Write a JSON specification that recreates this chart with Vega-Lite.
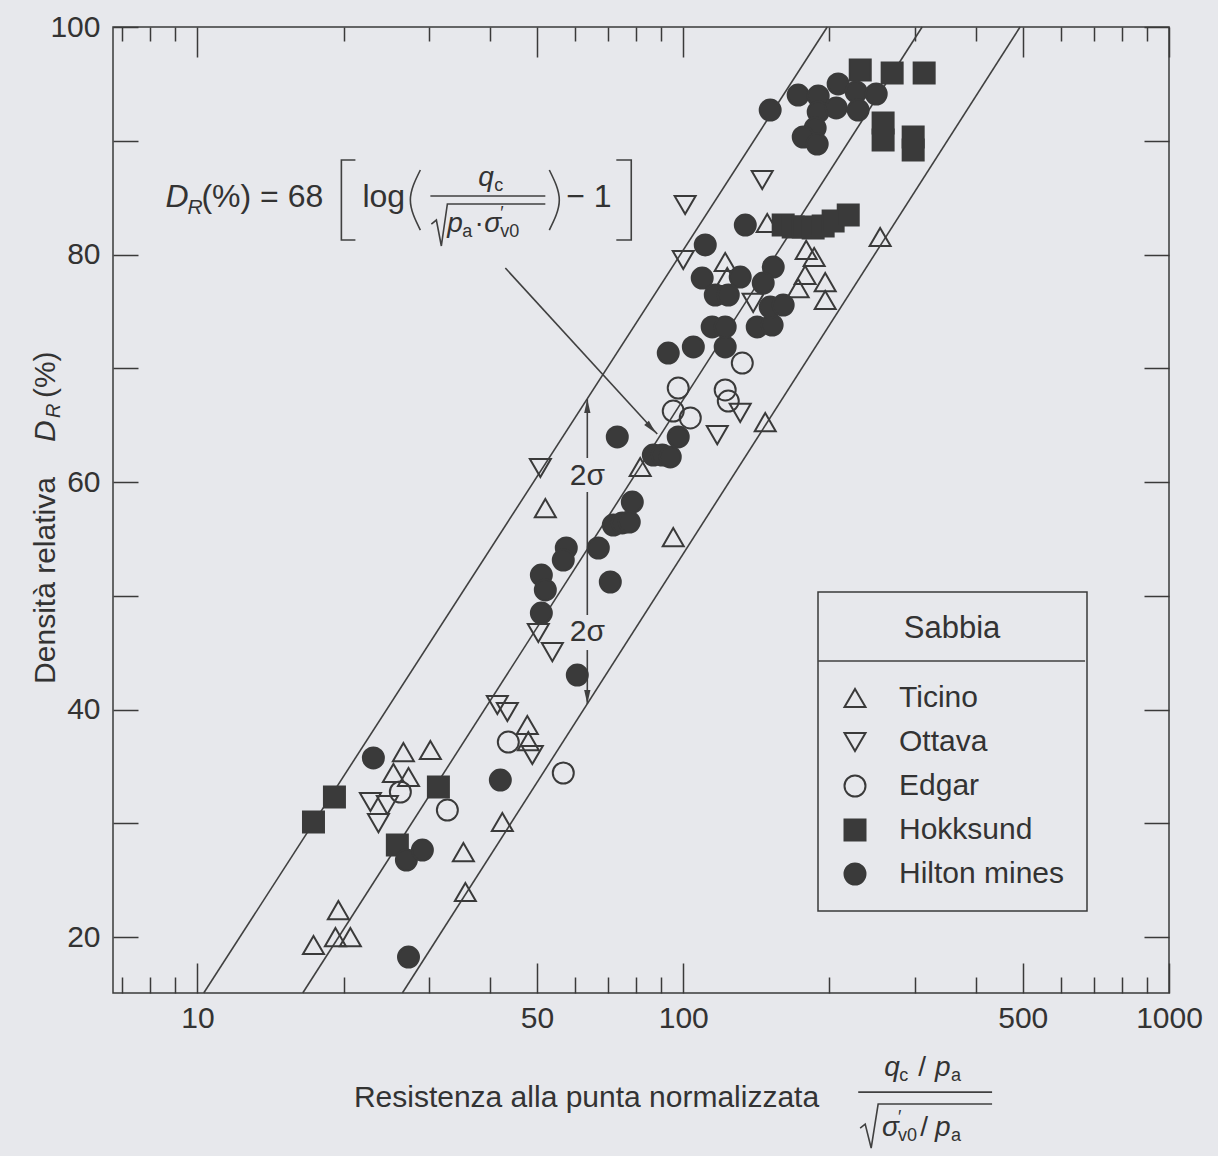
{
  "$schema": "https://vega.github.io/schema/vega-lite/v6.json",
  "width": 1056,
  "height": 966,
  "autosize": {"type": "none"},
  "padding": {"left": 113, "top": 27, "right": 49, "bottom": 163},
  "background": "#e7e8ec",
  "config": {
    "font": "Liberation Sans",
    "view": {"stroke": "#3a3a3a", "strokeWidth": 1.5},
    "axis": {"grid": false, "domainColor": "#3a3a3a", "domainWidth": 1.5, "tickColor": "#3a3a3a", "tickWidth": 1.5, "labelColor": "#333333", "labelFontSize": 30, "labelFont": "Liberation Sans", "titleFont": "Liberation Sans", "titleFontSize": 30, "titleFontWeight": "normal", "titleColor": "#333333"},
    "legend": {"orient": "none", "legendX": 705, "legendY": 565, "strokeColor": "#3a3a3a", "strokeWidth": 1.5, "padding": 22, "titleFont": "Liberation Sans", "titleFontSize": 31, "titleFontWeight": "normal", "titleColor": "#333333", "titleAnchor": "middle", "titlePadding": 38, "labelFont": "Liberation Sans", "labelFontSize": 30, "labelColor": "#333333", "labelOffset": 29, "labelLimit": 400, "rowPadding": 14, "symbolStrokeColor": "#3a3a3a", "symbolStrokeWidth": 2}
  },
  "datasets": {
    "pts": [
      {"sabbia": "Ticino", "qn": 17.33, "dr": 19.30}, {"sabbia": "Ticino", "qn": 19.23, "dr": 20.0}, {"sabbia": "Ticino", "qn": 20.64, "dr": 20.0}, {"sabbia": "Ticino", "qn": 19.50, "dr": 22.37},
      {"sabbia": "Ticino", "qn": 25.31, "dr": 34.42}, {"sabbia": "Ticino", "qn": 27.19, "dr": 34.07}, {"sabbia": "Ticino", "qn": 26.54, "dr": 36.26}, {"sabbia": "Ticino", "qn": 30.16, "dr": 36.44},
      {"sabbia": "Ticino", "qn": 35.27, "dr": 27.47}, {"sabbia": "Ticino", "qn": 35.60, "dr": 23.96}, {"sabbia": "Ticino", "qn": 42.42, "dr": 30.11}, {"sabbia": "Ticino", "qn": 47.75, "dr": 38.64},
      {"sabbia": "Ticino", "qn": 47.98, "dr": 37.23}, {"sabbia": "Ticino", "qn": 52.01, "dr": 57.71}, {"sabbia": "Ticino", "qn": 81.55, "dr": 61.32}, {"sabbia": "Ticino", "qn": 95.37, "dr": 55.16},
      {"sabbia": "Ticino", "qn": 122.0, "dr": 79.34}, {"sabbia": "Ticino", "qn": 123.2, "dr": 78.02}, {"sabbia": "Ticino", "qn": 148.9, "dr": 82.77}, {"sabbia": "Ticino", "qn": 147.5, "dr": 65.27},
      {"sabbia": "Ticino", "qn": 179.1, "dr": 80.40}, {"sabbia": "Ticino", "qn": 186.0, "dr": 79.78}, {"sabbia": "Ticino", "qn": 178.2, "dr": 78.20}, {"sabbia": "Ticino", "qn": 172.4, "dr": 77.05},
      {"sabbia": "Ticino", "qn": 196.0, "dr": 77.58}, {"sabbia": "Ticino", "qn": 196.0, "dr": 76.00}, {"sabbia": "Ticino", "qn": 254.3, "dr": 81.54},
      {"sabbia": "Ottava", "qn": 22.70, "dr": 31.87}, {"sabbia": "Ottava", "qn": 24.60, "dr": 31.60}, {"sabbia": "Ottava", "qn": 23.58, "dr": 30.02}, {"sabbia": "Ottava", "qn": 41.43, "dr": 40.40},
      {"sabbia": "Ottava", "qn": 43.44, "dr": 39.78}, {"sabbia": "Ottava", "qn": 48.90, "dr": 36.0}, {"sabbia": "Ottava", "qn": 50.80, "dr": 61.23}, {"sabbia": "Ottava", "qn": 50.31, "dr": 46.73},
      {"sabbia": "Ottava", "qn": 53.77, "dr": 45.05}, {"sabbia": "Ottava", "qn": 117.5, "dr": 64.13}, {"sabbia": "Ottava", "qn": 131.0, "dr": 66.07}, {"sabbia": "Ottava", "qn": 139.3, "dr": 75.74},
      {"sabbia": "Ottava", "qn": 100.9, "dr": 84.35}, {"sabbia": "Ottava", "qn": 100.0, "dr": 79.52}, {"sabbia": "Ottava", "qn": 145.4, "dr": 86.55},
      {"sabbia": "Edgar", "qn": 26.16, "dr": 32.75}, {"sabbia": "Edgar", "qn": 32.69, "dr": 31.16}, {"sabbia": "Edgar", "qn": 43.64, "dr": 37.14}, {"sabbia": "Edgar", "qn": 56.63, "dr": 34.42},
      {"sabbia": "Edgar", "qn": 97.65, "dr": 68.26}, {"sabbia": "Edgar", "qn": 95.37, "dr": 66.24}, {"sabbia": "Edgar", "qn": 103.4, "dr": 65.63}, {"sabbia": "Edgar", "qn": 122.0, "dr": 68.09},
      {"sabbia": "Edgar", "qn": 123.8, "dr": 67.12}, {"sabbia": "Edgar", "qn": 132.3, "dr": 70.46},
      {"sabbia": "Hokksund", "qn": 17.33, "dr": 30.11}, {"sabbia": "Hokksund", "qn": 19.14, "dr": 32.31}, {"sabbia": "Hokksund", "qn": 25.79, "dr": 28.09}, {"sabbia": "Hokksund", "qn": 31.33, "dr": 33.19},
      {"sabbia": "Hokksund", "qn": 160.6, "dr": 82.59}, {"sabbia": "Hokksund", "qn": 168.4, "dr": 82.42}, {"sabbia": "Hokksund", "qn": 176.6, "dr": 82.42}, {"sabbia": "Hokksund", "qn": 185.1, "dr": 82.33},
      {"sabbia": "Hokksund", "qn": 194.1, "dr": 82.51}, {"sabbia": "Hokksund", "qn": 203.5, "dr": 82.95}, {"sabbia": "Hokksund", "qn": 218.6, "dr": 83.47}, {"sabbia": "Hokksund", "qn": 231.4, "dr": 96.22},
      {"sabbia": "Hokksund", "qn": 269.2, "dr": 95.96}, {"sabbia": "Hokksund", "qn": 313.3, "dr": 95.96}, {"sabbia": "Hokksund", "qn": 257.9, "dr": 91.56}, {"sabbia": "Hokksund", "qn": 257.9, "dr": 90.07},
      {"sabbia": "Hokksund", "qn": 297.4, "dr": 90.33}, {"sabbia": "Hokksund", "qn": 297.4, "dr": 89.19},
      {"sabbia": "Hilton mines", "qn": 23.02, "dr": 35.74}, {"sabbia": "Hilton mines", "qn": 26.92, "dr": 26.77}, {"sabbia": "Hilton mines", "qn": 29.04, "dr": 27.65}, {"sabbia": "Hilton mines", "qn": 27.19, "dr": 18.24},
      {"sabbia": "Hilton mines", "qn": 42.02, "dr": 33.80}, {"sabbia": "Hilton mines", "qn": 60.52, "dr": 43.03}, {"sabbia": "Hilton mines", "qn": 51.04, "dr": 51.82}, {"sabbia": "Hilton mines", "qn": 52.01, "dr": 50.51},
      {"sabbia": "Hilton mines", "qn": 51.04, "dr": 48.48}, {"sabbia": "Hilton mines", "qn": 57.44, "dr": 54.20}, {"sabbia": "Hilton mines", "qn": 56.63, "dr": 53.14}, {"sabbia": "Hilton mines", "qn": 66.86, "dr": 54.20},
      {"sabbia": "Hilton mines", "qn": 70.77, "dr": 51.21}, {"sabbia": "Hilton mines", "qn": 73.15, "dr": 63.96}, {"sabbia": "Hilton mines", "qn": 78.55, "dr": 58.24}, {"sabbia": "Hilton mines", "qn": 71.78, "dr": 56.22},
      {"sabbia": "Hilton mines", "qn": 74.90, "dr": 56.40}, {"sabbia": "Hilton mines", "qn": 77.43, "dr": 56.48}, {"sabbia": "Hilton mines", "qn": 86.77, "dr": 62.37}, {"sabbia": "Hilton mines", "qn": 90.54, "dr": 62.37},
      {"sabbia": "Hilton mines", "qn": 94.03, "dr": 62.20}, {"sabbia": "Hilton mines", "qn": 93.14, "dr": 71.34}, {"sabbia": "Hilton mines", "qn": 104.9, "dr": 71.87}, {"sabbia": "Hilton mines", "qn": 122.0, "dr": 71.87},
      {"sabbia": "Hilton mines", "qn": 97.65, "dr": 63.96}, {"sabbia": "Hilton mines", "qn": 114.7, "dr": 73.63}, {"sabbia": "Hilton mines", "qn": 122.0, "dr": 73.63}, {"sabbia": "Hilton mines", "qn": 142.0, "dr": 73.63},
      {"sabbia": "Hilton mines", "qn": 152.4, "dr": 73.80}, {"sabbia": "Hilton mines", "qn": 151.0, "dr": 75.38}, {"sabbia": "Hilton mines", "qn": 160.6, "dr": 75.56}, {"sabbia": "Hilton mines", "qn": 109.4, "dr": 77.93},
      {"sabbia": "Hilton mines", "qn": 131.0, "dr": 78.02}, {"sabbia": "Hilton mines", "qn": 116.4, "dr": 76.44}, {"sabbia": "Hilton mines", "qn": 123.8, "dr": 76.44}, {"sabbia": "Hilton mines", "qn": 153.2, "dr": 78.90},
      {"sabbia": "Hilton mines", "qn": 146.1, "dr": 77.49}, {"sabbia": "Hilton mines", "qn": 111.0, "dr": 80.84}, {"sabbia": "Hilton mines", "qn": 134.2, "dr": 82.59}, {"sabbia": "Hilton mines", "qn": 151.0, "dr": 92.70},
      {"sabbia": "Hilton mines", "qn": 172.4, "dr": 94.02}, {"sabbia": "Hilton mines", "qn": 189.6, "dr": 93.93}, {"sabbia": "Hilton mines", "qn": 208.4, "dr": 94.99}, {"sabbia": "Hilton mines", "qn": 189.6, "dr": 92.53},
      {"sabbia": "Hilton mines", "qn": 206.5, "dr": 92.88}, {"sabbia": "Hilton mines", "qn": 227.0, "dr": 94.29}, {"sabbia": "Hilton mines", "qn": 229.1, "dr": 92.70}, {"sabbia": "Hilton mines", "qn": 249.6, "dr": 94.11},
      {"sabbia": "Hilton mines", "qn": 186.9, "dr": 91.12}, {"sabbia": "Hilton mines", "qn": 176.6, "dr": 90.33}, {"sabbia": "Hilton mines", "qn": 188.7, "dr": 89.71}
    ],
    "lines": [
      {"line": "sup", "qn": 10.30, "dr": 15.08}, {"line": "sup", "qn": 197.9, "dr": 100},
      {"line": "med", "qn": 16.47, "dr": 15.08}, {"line": "med", "qn": 310.3, "dr": 100},
      {"line": "inf", "qn": 26.41, "dr": 15.08}, {"line": "inf", "qn": 493.6, "dr": 100}
    ],
    "seg": [
      {"id": "brL", "k": 1, "qn": 21.14, "dr": 88.31}, {"id": "brL", "k": 2, "qn": 19.78, "dr": 88.31}, {"id": "brL", "k": 3, "qn": 19.78, "dr": 81.27}, {"id": "brL", "k": 4, "qn": 21.14, "dr": 81.27},
      {"id": "brR", "k": 1, "qn": 72.81, "dr": 88.31}, {"id": "brR", "k": 2, "qn": 78.16, "dr": 88.31}, {"id": "brR", "k": 3, "qn": 78.16, "dr": 81.27}, {"id": "brR", "k": 4, "qn": 72.81, "dr": 81.27},
      {"id": "frac", "k": 1, "qn": 30.16, "dr": 85.14}, {"id": "frac", "k": 2, "qn": 52.01, "dr": 85.14},
      {"id": "rad", "k": 1, "qn": 30.30, "dr": 82.68}, {"id": "rad", "k": 2, "qn": 31.03, "dr": 83.03}, {"id": "rad", "k": 3, "qn": 31.77, "dr": 80.75}, {"id": "rad", "k": 4, "qn": 32.69, "dr": 84.44}, {"id": "rad", "k": 5, "qn": 52.01, "dr": 84.44},
      {"id": "arrow", "k": 1, "qn": 43.03, "dr": 78.81}, {"id": "arrow", "k": 2, "qn": 88.41, "dr": 64.22},
      {"id": "s1", "k": 1, "qn": 63.46, "dr": 67.30}, {"id": "s1", "k": 2, "qn": 63.46, "dr": 62.11},
      {"id": "s2", "k": 1, "qn": 63.46, "dr": 59.12}, {"id": "s2", "k": 2, "qn": 63.46, "dr": 48.31},
      {"id": "s3", "k": 1, "qn": 63.46, "dr": 45.23}, {"id": "s3", "k": 2, "qn": 63.46, "dr": 40.48},
      {"id": "xfrac", "k": 1, "qn": 229.2, "dr": 6.37}, {"id": "xfrac", "k": 2, "qn": 432.3, "dr": 6.37},
      {"id": "xrad", "k": 1, "qn": 231.3, "dr": 3.21}, {"id": "xrad", "k": 2, "qn": 236.9, "dr": 3.56}, {"id": "xrad", "k": 3, "qn": 243.7, "dr": 1.45}, {"id": "xrad", "k": 4, "qn": 251.9, "dr": 5.32}, {"id": "xrad", "k": 5, "qn": 432.3, "dr": 5.32},
      {"id": "sep", "k": 1, "qn": 189.6, "dr": 44.26}, {"id": "sep", "k": 2, "qn": 671.7, "dr": 44.26}
    ],
    "par": [
      {"id": "pl", "k": 1, "qn": 28.76, "dr": 87.43}, {"id": "pl", "k": 2, "qn": 27.43, "dr": 84.79}, {"id": "pl", "k": 3, "qn": 28.76, "dr": 82.15},
      {"id": "pr", "k": 1, "qn": 53.00, "dr": 87.43}, {"id": "pr", "k": 2, "qn": 55.57, "dr": 84.79}, {"id": "pr", "k": 3, "qn": 53.00, "dr": 82.15}
    ],
    "heads": [
      {"qn": 63.46, "dr": 66.68, "heading": 0},
      {"qn": 63.46, "dr": 41.10, "heading": 180},
      {"qn": 85.93, "dr": 64.75, "heading": 137.5}
    ],
    "tA": [
      {"t": "(%) = 68", "qn": 10.19, "dr": 85.05}, {"t": "log", "qn": 21.85, "dr": 85.05}, {"t": "− 1", "qn": 57.44, "dr": 85.05}
    ],
    "tB": [{"t": "D", "qn": 8.593, "dr": 85.05}],
    "tC": [{"t": "R", "qn": 9.537, "dr": 84.09}],
    "tD": [
      {"t": "q", "qn": 37.86, "dr": 86.73}, {"t": "p", "qn": 32.69, "dr": 82.68}, {"t": "σ", "qn": 38.95, "dr": 82.68},
      {"t": "q", "qn": 259.2, "dr": 8.48}, {"t": "p", "qn": 330.0, "dr": 8.48}, {"t": "σ", "qn": 256.7, "dr": 3.21}, {"t": "p", "qn": 330.0, "dr": 3.21}
    ],
    "tE": [
      {"t": "c", "qn": 40.84, "dr": 86.02}, {"t": "a", "qn": 35.10, "dr": 81.98}, {"t": "v0", "qn": 42.02, "dr": 81.98}, {"t": "′", "qn": 42.02, "dr": 83.56},
      {"t": "c", "qn": 278.3, "dr": 7.78}, {"t": "a", "qn": 356.0, "dr": 7.78}, {"t": "′", "qn": 276.9, "dr": 4.09}, {"t": "v0", "qn": 276.9, "dr": 2.51}, {"t": "a", "qn": 356.0, "dr": 2.51}
    ],
    "tF": [
      {"t": "·", "qn": 37.16, "dr": 82.68}, {"t": "/", "qn": 304.5, "dr": 8.48}, {"t": "/", "qn": 307.4, "dr": 3.21}
    ],
    "tG": [{"t": "2σ", "qn": 63.46, "dr": 60.53}, {"t": "2σ", "qn": 63.46, "dr": 46.81}],
    "tH1": [{"t": "D", "qn": 4.867, "dr": 63.52}],
    "tH2": [{"t": "R", "qn": 5.055, "dr": 65.63}],
    "tH3": [{"t": "(%)", "qn": 4.867, "dr": 67.38}]
  },
  "layer": [
    {
      "data": {"name": "lines"},
      "mark": {"type": "line", "stroke": "#404040", "strokeWidth": 1.6},
      "encoding": {
        "x": {"field": "qn", "type": "quantitative", "scale": {"type": "log", "domain": [6.7, 1000], "nice": false},
          "axis": {"orient": "top", "values": [7, 8, 9, 10, 20, 30, 40, 50, 60, 70, 80, 90, 100, 200, 300, 400, 500, 600, 700, 800, 900, 1000],
            "tickSize": {"condition": {"test": "indexof([10,50,100,500,1000], datum.value) >= 0", "value": -30}, "value": -14},
            "labels": false, "title": null, "domain": false}},
        "y": {"field": "dr", "type": "quantitative", "scale": {"domain": [15.08, 100], "nice": false, "zero": false},
          "axis": {"orient": "right", "values": [20, 30, 40, 50, 60, 70, 80, 90, 100], "tickSize": -25, "labels": false, "title": null, "domain": false}},
        "detail": {"field": "line"}
      }
    },
    {
      "data": {"name": "seg"},
      "mark": {"type": "line", "stroke": "#404040", "strokeWidth": 1.6},
      "encoding": {
        "x": {"field": "qn", "type": "quantitative", "axis": null},
        "y": {"field": "dr", "type": "quantitative", "axis": null},
        "detail": {"field": "id"},
        "order": {"field": "k", "type": "quantitative"}
      }
    },
    {
      "data": {"name": "par"},
      "mark": {"type": "line", "stroke": "#404040", "strokeWidth": 1.6, "interpolate": "natural"},
      "encoding": {
        "x": {"field": "qn", "type": "quantitative", "axis": null},
        "y": {"field": "dr", "type": "quantitative", "axis": null},
        "detail": {"field": "id"},
        "order": {"field": "k", "type": "quantitative"}
      }
    },
    {
      "data": {"name": "heads"},
      "mark": {"type": "point", "shape": "M0,-1L-0.45,1L0.45,1Z", "filled": true, "fill": "#404040", "stroke": null, "size": 196, "opacity": 1},
      "encoding": {
        "x": {"field": "qn", "type": "quantitative", "axis": null},
        "y": {"field": "dr", "type": "quantitative", "axis": null},
        "angle": {"field": "heading", "type": "quantitative", "scale": null}
      }
    },
    {
      "data": {"name": "pts"},
      "mark": {"type": "point", "strokeWidth": 2, "opacity": 1},
      "encoding": {
        "x": {"field": "qn", "type": "quantitative",
          "axis": {"orient": "bottom", "values": [7, 8, 9, 10, 20, 30, 40, 50, 60, 70, 80, 90, 100, 200, 300, 400, 500, 600, 700, 800, 900, 1000],
            "tickSize": {"condition": {"test": "indexof([10,50,100,500,1000], datum.value) >= 0", "value": -30}, "value": -16},
            "labelExpr": "indexof([10,50,100,500,1000], datum.value) >= 0 ? format(datum.value, 'd') : ''",
            "labelPadding": 40, "labelDx": 5, "labelFlush": false, "labelOverlap": false, "labelBound": false,
            "title": "Resistenza alla punta normalizzata", "titleX": 473, "titleY": 104, "titleAlign": "center", "titleBaseline": "middle", "domain": false}},
        "y": {"field": "dr", "type": "quantitative",
          "axis": {"orient": "left", "values": [20, 30, 40, 50, 60, 70, 80, 90, 100], "tickSize": -25,
            "labelExpr": "datum.value % 20 === 0 ? datum.label : ''", "labelPadding": 38, "labelOverlap": false, "labelFlush": false, "labelBound": false,
            "title": "Densità relativa", "titleX": -68, "titleY": 553, "titleAngle": -90, "titleAlign": "center", "titleBaseline": "middle", "domain": false}},
        "shape": {"field": "sabbia", "type": "nominal", "title": "Sabbia",
          "scale": {"domain": ["Ticino", "Ottava", "Edgar", "Hokksund", "Hilton mines"], "range": ["triangle-up", "triangle-down", "circle", "square", "circle"]}},
        "fill": {"field": "sabbia", "type": "nominal", "title": "Sabbia",
          "scale": {"domain": ["Ticino", "Ottava", "Edgar", "Hokksund", "Hilton mines"], "range": ["transparent", "transparent", "transparent", "#3a3a3a", "#3a3a3a"]}},
        "stroke": {"field": "sabbia", "type": "nominal", "title": "Sabbia",
          "scale": {"domain": ["Ticino", "Ottava", "Edgar", "Hokksund", "Hilton mines"], "range": ["#3a3a3a", "#3a3a3a", "#3a3a3a", "#3a3a3a", "#3a3a3a"]}},
        "size": {"field": "sabbia", "type": "nominal", "title": "Sabbia",
          "scale": {"domain": ["Ticino", "Ottava", "Edgar", "Hokksund", "Hilton mines"], "range": [441, 441, 300, 225, 256]}}
      }
    },
    {
      "data": {"name": "tA"},
      "mark": {"type": "text", "align": "left", "baseline": "middle", "fontSize": 32, "color": "#333333"},
      "encoding": {"x": {"field": "qn", "type": "quantitative", "axis": null}, "y": {"field": "dr", "type": "quantitative", "axis": null}, "text": {"field": "t"}}
    },
    {
      "data": {"name": "tB"},
      "mark": {"type": "text", "align": "left", "baseline": "middle", "fontSize": 32, "fontStyle": "italic", "color": "#333333"},
      "encoding": {"x": {"field": "qn", "type": "quantitative", "axis": null}, "y": {"field": "dr", "type": "quantitative", "axis": null}, "text": {"field": "t"}}
    },
    {
      "data": {"name": "tC"},
      "mark": {"type": "text", "align": "left", "baseline": "middle", "fontSize": 21, "fontStyle": "italic", "color": "#333333"},
      "encoding": {"x": {"field": "qn", "type": "quantitative", "axis": null}, "y": {"field": "dr", "type": "quantitative", "axis": null}, "text": {"field": "t"}}
    },
    {
      "data": {"name": "tD"},
      "mark": {"type": "text", "align": "left", "baseline": "middle", "fontSize": 28, "fontStyle": "italic", "color": "#333333"},
      "encoding": {"x": {"field": "qn", "type": "quantitative", "axis": null}, "y": {"field": "dr", "type": "quantitative", "axis": null}, "text": {"field": "t"}}
    },
    {
      "data": {"name": "tE"},
      "mark": {"type": "text", "align": "left", "baseline": "middle", "fontSize": 18, "color": "#333333"},
      "encoding": {"x": {"field": "qn", "type": "quantitative", "axis": null}, "y": {"field": "dr", "type": "quantitative", "axis": null}, "text": {"field": "t"}}
    },
    {
      "data": {"name": "tF"},
      "mark": {"type": "text", "align": "left", "baseline": "middle", "fontSize": 28, "color": "#333333"},
      "encoding": {"x": {"field": "qn", "type": "quantitative", "axis": null}, "y": {"field": "dr", "type": "quantitative", "axis": null}, "text": {"field": "t"}}
    },
    {
      "data": {"name": "tG"},
      "mark": {"type": "text", "align": "center", "baseline": "middle", "fontSize": 30, "color": "#333333"},
      "encoding": {"x": {"field": "qn", "type": "quantitative", "axis": null}, "y": {"field": "dr", "type": "quantitative", "axis": null}, "text": {"field": "t"}}
    },
    {
      "data": {"name": "tH1"},
      "mark": {"type": "text", "align": "left", "baseline": "middle", "fontSize": 30, "fontStyle": "italic", "angle": 270, "color": "#333333"},
      "encoding": {"x": {"field": "qn", "type": "quantitative", "axis": null}, "y": {"field": "dr", "type": "quantitative", "axis": null}, "text": {"field": "t"}}
    },
    {
      "data": {"name": "tH2"},
      "mark": {"type": "text", "align": "left", "baseline": "middle", "fontSize": 20, "fontStyle": "italic", "angle": 270, "color": "#333333"},
      "encoding": {"x": {"field": "qn", "type": "quantitative", "axis": null}, "y": {"field": "dr", "type": "quantitative", "axis": null}, "text": {"field": "t"}}
    },
    {
      "data": {"name": "tH3"},
      "mark": {"type": "text", "align": "left", "baseline": "middle", "fontSize": 30, "angle": 270, "color": "#333333"},
      "encoding": {"x": {"field": "qn", "type": "quantitative", "axis": null}, "y": {"field": "dr", "type": "quantitative", "axis": null}, "text": {"field": "t"}}
    }
  ],
  "resolve": {"axis": {"x": "independent", "y": "independent"}}
}
